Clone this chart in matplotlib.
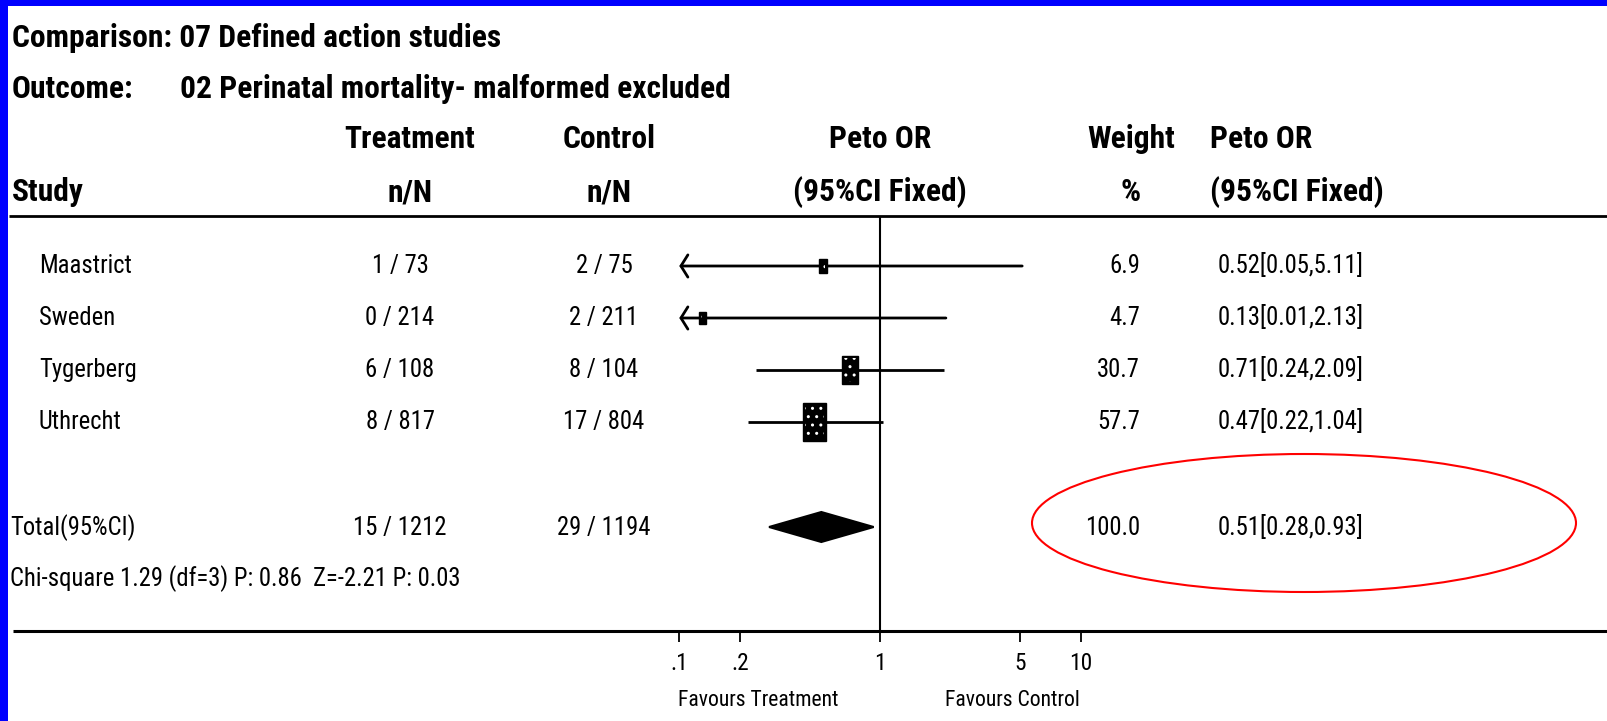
import os
import matplotlib
matplotlib.use('Agg')
import matplotlib.pyplot as plt
from matplotlib import font_manager
from matplotlib.font_manager import FontProperties
from matplotlib.patches import Rectangle, Polygon, Ellipse
from matplotlib.ticker import NullLocator
from matplotlib.transforms import IdentityTransform, ScaledTranslation

# ---- data ----
studies = ['Maastrict', 'Sweden', 'Tygerberg', 'Uthrecht']
treat_n = [1, 0, 6, 8]
treat_N = [73, 214, 108, 817]
ctrl_n = [2, 2, 8, 17]
ctrl_N = [75, 211, 104, 804]
weights = [6.9, 4.7, 30.7, 57.7]
odds = [0.52, 0.13, 0.71, 0.47]
ci_low = [0.05, 0.01, 0.24, 0.22]
ci_high = [5.11, 2.13, 2.09, 1.04]

total_treat = (15, 1212)
total_ctrl = (29, 1194)
total_weight = 100.0
total_or = 0.51
total_low = 0.28
total_high = 0.93
chi_sq, chi_df, chi_p, z_val, z_p = 1.29, 3, 0.86, -2.21, 0.03

x_ticks = [0.1, 0.2, 1, 5, 10]
x_tick_labels = ['.1', '.2', '1', '5', '10']

# ---- fonts: pick a narrow / condensed sans if one is installed ----
files = {os.path.basename(f.fname).lower(): f.fname for f in font_manager.fontManager.ttflist}
candidates = [
    ('liberationsansnarrow-regular.ttf', 'liberationsansnarrow-bold.ttf'),
    ('robotocondensed-regular.ttf', 'robotocondensed-bold.ttf'),
    ('notosans-condensed.ttf', 'notosans-condensedbold.ttf'),
    ('dejavusanscondensed.ttf', 'dejavusanscondensed-bold.ttf'),
]
fp_reg = FontProperties(family='Liberation Sans')
fp_bold = FontProperties(family='Liberation Sans', weight='bold')
for reg, bold in candidates:
    if reg in files and bold in files:
        fp_reg = FontProperties(fname=files[reg])
        fp_bold = FontProperties(fname=files[bold])
        break

W, H, DPI = 1607, 721, 100
fig = plt.figure(figsize=(W / DPI, H / DPI), dpi=DPI, facecolor='white')
renderer = fig.canvas.get_renderer()


def fit_size(text, px, fp):
    # font size that makes `text` about `px` pixels wide
    t = fig.text(0, 0, text, fontproperties=fp, fontsize=20)
    w = t.get_window_extent(renderer=renderer).width
    t.remove()
    return 20 * px / w


HEAD = fit_size('Comparison: 07 Defined action studies', 487, fp_bold)
BODY = fit_size('Chi-square 1.29 (df=3) P: 0.86  Z=-2.21 P: 0.03', 451, fp_reg)
SMALL = fit_size('Favours Treatment', 160, fp_reg)
TICK = fit_size('10', 23, fp_reg)

# background axes in pixel units (y down)
ax0 = fig.add_axes([0, 0, 1, 1])
ax0.set_xlim(0, W)
ax0.set_ylim(H, 0)
ax0.axis('off')

# blue frame of the slide
ax0.add_patch(Rectangle((0, 0), 8, H, color='#0000ff', lw=0))
ax0.add_patch(Rectangle((0, 0), W, 6, color='#0000ff', lw=0))


def put(x, y, s, size, ha='left', bold=False):
    # y is the middle of the capital letters
    fp = (fp_bold if bold else fp_reg).copy()
    fp.set_size(size)
    ax0.text(x, y + 0.36 * size * DPI / 72, s, fontproperties=fp, ha=ha,
             va='baseline', color='black')


put(12, 36, 'Comparison: 07 Defined action studies', HEAD, bold=True)
put(12, 87, 'Outcome:', HEAD, bold=True)
put(180, 87, '02 Perinatal mortality- malformed excluded', HEAD, bold=True)

put(410, 137, 'Treatment', HEAD, ha='center', bold=True)
put(609, 137, 'Control', HEAD, ha='center', bold=True)
put(880, 137, 'Peto OR', HEAD, ha='center', bold=True)
put(1131, 137, 'Weight', HEAD, ha='center', bold=True)
put(1210, 137, 'Peto OR', HEAD, bold=True)

put(12, 190, 'Study', HEAD, bold=True)
put(410, 190, 'n/N', HEAD, ha='center', bold=True)
put(609, 190, 'n/N', HEAD, ha='center', bold=True)
put(880, 190, '(95%CI Fixed)', HEAD, ha='center', bold=True)
put(1131, 190, '%', HEAD, ha='center', bold=True)
put(1210, 190, '(95%CI Fixed)', HEAD, bold=True)

ax0.plot([9, W], [216, 216], color='black', lw=2, solid_capstyle='butt')
ax0.plot([13, W], [631, 631], color='black', lw=2.2, solid_capstyle='butt')

row_y = [266 + 52 * i for i in range(len(studies))]
total_y = 527
chi_y = 577

for i, name in enumerate(studies):
    y = row_y[i] - 2
    put(39, y, name, BODY)
    put(400, y, f'{treat_n[i]} / {treat_N[i]}', BODY, ha='center')
    put(604, y, f'{ctrl_n[i]} / {ctrl_N[i]}', BODY, ha='center')
    put(1140, y, f'{weights[i]:.1f}', BODY, ha='right')
    put(1218, y, f'{odds[i]:.2f}[{ci_low[i]:.2f},{ci_high[i]:.2f}]', BODY)

ty = total_y - 1
put(10, ty, 'Total(95%CI)', BODY)
put(400, ty, f'{total_treat[0]} / {total_treat[1]}', BODY, ha='center')
put(604, ty, f'{total_ctrl[0]} / {total_ctrl[1]}', BODY, ha='center')
put(1140, ty, f'{total_weight:.1f}', BODY, ha='right')
put(1218, ty, f'{total_or:.2f}[{total_low:.2f},{total_high:.2f}]', BODY)
put(10, chi_y, f'Chi-square {chi_sq:.2f} (df={chi_df}) P: {chi_p:.2f}  '
                f'Z={z_val:.2f} P: {z_p:.2f}', BODY)

put(758, 698, 'Favours Treatment', SMALL, ha='center')
put(1012, 698, 'Favours Control', SMALL, ha='center')

# red highlight round the pooled result
ax0.add_patch(Ellipse((1304, 523), 544, 138, fill=False, ec='#ff0000', lw=1.5))

# ---- forest axes: log scale, y in the same pixel units ----
x0, x1 = 679.3, 1080.7
top, bot = 216, 631
ax = fig.add_axes([x0 / W, (H - bot) / H, (x1 - x0) / W, (bot - top) / H])
ax.set_xscale('log')
ax.set_xlim(0.1, 10)
ax.set_ylim(bot, top)
ax.patch.set_alpha(0)
for sp in ax.spines.values():
    sp.set_visible(False)
ax.set_yticks([])
ax.set_xticks(x_ticks, x_tick_labels)
ax.xaxis.set_minor_locator(NullLocator())
ax.tick_params(axis='x', direction='out', length=8, width=1.3, pad=7, colors='black')
tick_fp = fp_reg.copy()
tick_fp.set_size(TICK)
for lab in ax.get_xticklabels():
    lab.set_fontproperties(tick_fp)

ax.axvline(1, color='black', lw=1.5, zorder=2)

for i in range(len(studies)):
    y = row_y[i]
    if ci_low[i] < 0.1:
        ax.annotate('', xy=(0.1, y), xytext=(ci_high[i], y), annotation_clip=False,
                    arrowprops=dict(arrowstyle='->,head_length=0.25,head_width=0.4',
                                    lw=2, color='black', shrinkA=0, shrinkB=0,
                                    mutation_scale=20))
    else:
        ax.plot([ci_low[i], ci_high[i]], [y, y], color='black', lw=2,
                solid_capstyle='butt', zorder=3)

    h = max(5.0 * weights[i] ** 0.5, 12)
    bw = 0.6 * h
    tr = IdentityTransform() + ScaledTranslation(odds[i], y, ax.transData)
    ax.add_patch(Rectangle((-bw / 2, -h / 2), bw, h, transform=tr, fc='black',
                           ec='black', lw=1, zorder=4))
    ax.add_patch(Rectangle((-bw / 2 + 2, -h / 2 + 2), bw - 4, h - 4, transform=tr,
                           fc='none', ec='white', hatch='..', lw=0, zorder=5))

# pooled diamond
dh = 15
ax.add_patch(Polygon([(total_low, total_y), (total_or, total_y - dh),
                      (total_high, total_y), (total_or, total_y + dh)],
                     closed=True, fc='black', ec='black', lw=1.5, zorder=4))

fig.savefig('out.png', dpi=DPI, facecolor='white')
